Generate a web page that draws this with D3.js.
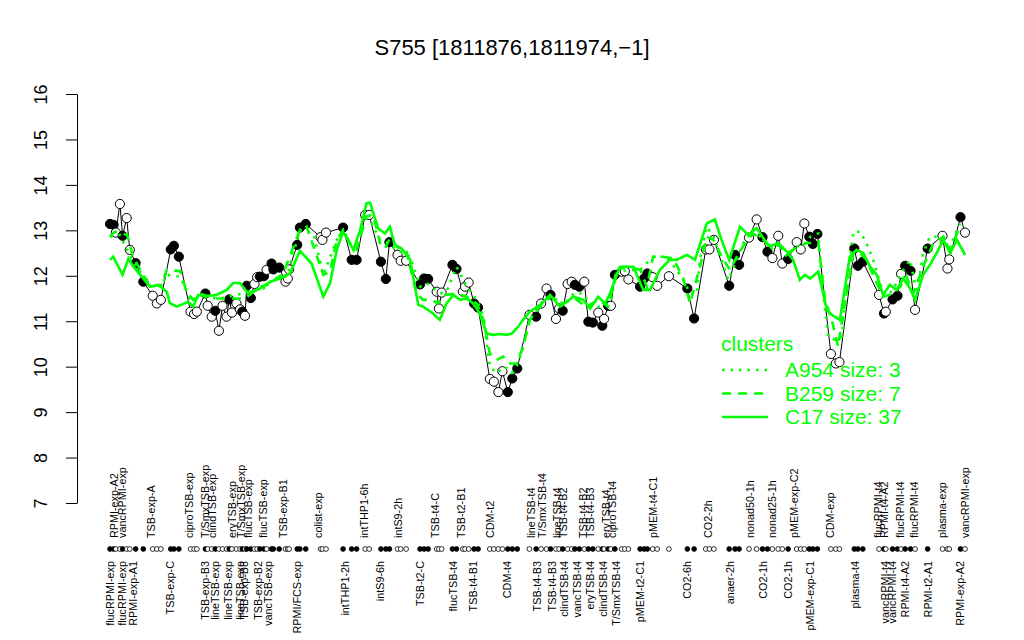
<!DOCTYPE html>
<html>
<head>
<meta charset="utf-8">
<script src="https://cdn.jsdelivr.net/npm/d3@7"></script>
<style>
  html, body { margin: 0; padding: 0; background: #fff; }
  svg { display: block; font-family: "Liberation Sans", Arial, Helvetica, sans-serif; }
</style>
</head>
<body>
<svg id="chart" width="1024" height="640"></svg>
<script>
// ---------- DATA ----------
const title = "S755 [1811876,1811974,\u22121]";
const yTicks = [7, 8, 9, 10, 11, 12, 13, 14, 15, 16];

// sample positions along the x axis (index units), expression values and filled flag
const positions = [0.0,0.8,1.3,2.2,2.8,3.7,4.4,5.7,7.4,9.5,
  10.4,11.3,13.5,14.2,15.3,17.9,18.7,19.3,21.2,21.7,
  22.6,23.4,24.2,25.0,25.9,26.5,27.1,28.1,28.9,29.4,
  30.0,30.4,31.3,32.1,32.7,33.3,34.2,34.8,35.9,36.3,
  37.6,39.0,39.5,39.8,41.6,42.2,43.5,46.8,47.2,48.0,
  51.8,53.7,54.8,56.7,57.6,60.2,61.3,62.1,63.9,64.6,
  65.8,68.9,69.8,70.7,72.6,73.1,73.7,76.1,77.0,78.4,
  78.9,79.7,80.9,81.8,84.4,85.3,86.3,87.2,88.4,89.4,
  90.5,93.2,94.7,95.8,97.0,97.9,99.1,99.8,100.6,101.7,
  102.6,103.3,104.3,105.4,106.3,107.3,108.5,109.4,109.8,110.7,
  111.3,112.2,113.7,114.4,115.2,117.8,118.7,119.4,120.6,121.6,
  124.2,128.3,129.8,132.4,133.2,134.2,137.6,138.9,139.8,142.0,
  143.7,145.0,146.1,147.2,148.5,149.4,150.7,152.6,153.5,154.3,
  155.4,156.2,157.2,160.2,161.3,162.1,165.4,166.2,167.3,170.9,
  172.0,172.4,173.9,175.0,175.8,176.7,177.9,178.9,181.7,185.0,
  186.1,186.5,189.0,190.0];

const values = [13.14,13.12,12.95,13.58,12.88,13.27,12.57,12.28,11.87,11.56,
  11.39,11.47,12.58,12.66,12.42,11.21,11.16,11.21,11.61,11.34,
  11.10,11.23,10.79,11.34,11.10,11.48,11.19,11.39,11.26,11.21,
  11.12,11.78,11.51,11.82,11.97,11.98,11.99,12.13,12.27,12.14,
  12.18,11.87,11.94,12.14,12.68,13.06,13.14,12.85,12.79,12.95,
  13.06,12.35,12.35,13.34,13.34,12.31,11.93,12.74,12.46,12.33,
  12.33,11.81,11.94,11.93,11.65,11.28,11.63,12.24,12.15,11.65,
  11.76,11.85,11.39,11.30,9.73,9.67,9.44,9.90,9.44,9.74,
  9.96,11.14,11.10,11.39,11.72,11.58,11.05,11.28,11.23,11.82,
  11.87,11.80,11.76,11.87,10.99,10.97,11.19,10.90,11.05,11.34,
  11.34,12.02,12.09,12.10,11.92,11.76,11.94,12.05,11.97,11.78,
  11.99,11.72,11.06,12.58,12.58,12.79,11.78,12.46,12.24,12.84,
  13.24,12.85,12.53,12.39,12.88,12.27,12.37,12.74,12.58,13.15,
  12.86,12.70,12.92,10.28,10.07,10.10,12.60,12.22,12.31,11.58,
  11.17,11.21,11.48,11.56,12.04,12.22,12.11,11.25,12.60,12.88,
  12.16,12.36,13.29,12.95];

const filled = [1,1,0,0,1,0,0,1,1,0,
  0,0,1,1,1,0,0,0,1,0,
  0,1,0,0,0,1,0,0,0,1,
  0,1,1,0,0,1,1,0,1,1,
  1,0,0,0,1,1,1,0,0,0,
  1,1,1,0,0,1,1,1,0,0,
  0,1,1,1,0,0,0,1,1,0,
  0,0,1,1,0,0,0,0,1,1,
  1,0,1,0,0,1,0,0,1,0,
  0,1,1,0,1,1,0,1,0,1,
  0,1,0,0,0,1,1,1,0,0,
  0,1,1,0,0,0,1,1,1,0,
  0,1,1,0,0,0,1,0,0,0,
  1,1,1,0,0,0,1,1,1,0,
  1,0,1,1,0,1,1,0,1,0,
  0,0,1,0];

// sample labels shown above the marker row  [position, label]
const topLabels = [
  [0.9,"RPMI-exp-A2"],[2.8,"vancRPMI-exp"],[9.1,"TSB-exp-A"],[17.6,"ciproTSB-exp"],
  [21.1,"T/SmxTSB-exp"],[22.7,"clindTSB-exp"],[27.1,"eryTSB-exp"],[29.1,"T/SmxTSB-exp"],
  [30.7,"flucTSB-exp"],[34.0,"flucTSB-exp"],[38.4,"TSB-exp-B1"],[46.2,"colist-exp"],
  [56.4,"intTHP1-6h"],[64.0,"intS9-2h"],[72.2,"TSB-t4-C"],[78.0,"TSB-t2-B1"],
  [84.4,"CDM-t2"],[93.6,"lineTSB-t4"],[96.0,"T/SmxTSB-t4"],[99.3,"lineTSB-t4"],
  [100.7,"TSB-t4-B2"],[105.1,"TSB-t4-B2"],[106.7,"TSB-t4-B3"],[110.2,"eryTSB-t4"],
  [111.6,"ciproTSB-t4"],[120.7,"pMEM-t4-C1"],[132.9,"CO2-2h"],[142.2,"nonad50-1h"],
  [147.1,"nonad25-1h"],[152.0,"pMEM-exp-C2"],[160.0,"CDM-exp"],[170.7,"flucRPMI-t4"],
  [172.0,"RPMI-t4-A2"],[175.6,"flucRPMI-t4"],[178.7,"flucRPMI-t4"],[184.9,"plasma-exp"],
  [190.0,"vancRPMI-exp"]];

// sample labels shown below the marker row  [position, label]
const bottomLabels = [
  [0.0,"flucRPMI-exp"],[2.7,"flucRPMI-exp"],[5.1,"RPMI-exp-A1"],[13.3,"TSB-exp-C"],
  [21.1,"TSB-exp-B3"],[23.3,"lineTSB-exp"],[26.2,"lineTSB-exp"],[28.9,"lineTSB-exp"],
  [29.8,"TSB-exp-B3"],[32.9,"TSB-exp-B2"],[35.1,"vancTSB-exp"],[41.6,"RPMI/FCS-exp"],
  [52.2,"intTHP1-2h"],[60.0,"intS9-6h"],[68.9,"TSB-t2-C"],[76.2,"flucTSB-t4"],
  [80.7,"TSB-t4-B1"],[88.2,"CDM-t4"],[94.9,"TSB-t4-B3"],[98.2,"TSB-t4-B3"],
  [100.9,"clindTSB-t4"],[103.8,"vancTSB-t4"],[106.7,"eryTSB-t4"],[109.6,"clindTSB-t4"],
  [112.4,"T/SmxTSB-t4"],[117.8,"pMEM-t2-C1"],[128.2,"CO2-6h"],[137.8,"anaer-2h"],
  [145.1,"CO2-1h"],[150.7,"CO2-1h"],[155.6,"pMEM-exp-C1"],[165.6,"plasma-t4"],
  [172.2,"vancRPMI-t4"],[173.8,"vancRPMI-t4"],[176.7,"RPMI-t4-A2"],[181.8,"RPMI-t2-A1"],
  [188.9,"RPMI-exp-A2"]];

// cluster mean profiles  [position, value]
const clusterA954 = [[0,12.86],[2.2,12.9],[5.2,12.3],[8.9,11.78],[11.5,11.8],[12.6,12.02],[15.6,11.98],[17.8,11.5],[20.0,11.54],[24.4,11.5],[29.6,11.61],[34.1,11.72],[36.3,11.94],[39.3,11.98],[42.2,13.01],[45.2,12.93],[47.4,12.02],[50.4,12.79],[51.8,13.01],[54.1,12.57],[57.0,13.38],[60.0,12.79],[61.3,12.75],[63.7,12.57],[66.7,12.42],[68.9,11.76],[70.4,11.84],[73.3,11.61],[74.8,11.65],[77.0,12.2],[79.3,11.76],[81.5,11.47],[83.0,11.1],[84.4,10.0],[85.9,9.86],[87.8,10.0],[89.3,9.86],[90.7,10.07],[91.8,10.44],[93.3,11.03],[95.6,11.39],[98.5,11.54],[100.7,11.32],[103.0,11.61],[105.2,11.61],[107.0,11.32],[108.9,11.32],[111.1,11.39],[112.6,12.05],[114.8,12.13],[117.8,12.13],[120.7,12.42],[123.7,12.42],[125.9,12.13],[127.4,11.91],[128.9,11.61],[130.4,11.61],[131.1,12.35],[132.6,13.08],[134.1,12.86],[135.9,12.35],[137.4,11.91],[139.3,12.35],[140.7,12.72],[142.9,13.01],[145.2,12.79],[147.4,12.57],[148.9,12.72],[150.4,12.42],[152.6,12.65],[154.1,12.65],[155.6,12.86],[157.4,12.93],[158.5,11.61],[159.6,10.66],[161.1,10.59],[162.6,10.66],[164.4,12.35],[165.2,12.97],[166.7,12.97],[168.1,12.72],[169.6,12.35],[171.8,11.61],[173.3,11.61],[174.8,11.84],[176.3,12.13],[177.8,12.35],[179.3,11.61],[180.7,12.5],[182.2,12.86],[183.7,12.86],[185.2,12.65],[187.0,12.72],[188.9,13.15]];

const clusterB259 = [[0,12.86],[1.1,12.97],[3.8,12.9],[5.2,12.4],[8.9,11.76],[11.5,11.8],[12.6,12.13],[15.6,12.1],[17.0,11.65],[18.5,11.47],[20.0,11.61],[23.3,11.5],[26.7,11.5],[30.0,11.5],[33.3,11.76],[35.1,11.8],[37.0,11.94],[38.5,12.05],[42.2,13.01],[43.7,13.08],[47.4,12.02],[48.9,12.09],[50.4,12.79],[51.8,13.01],[53.7,12.65],[54.8,12.57],[57.0,13.31],[58.5,13.34],[60.0,12.72],[61.1,12.6],[62.2,12.83],[64.4,12.57],[65.9,12.53],[68.1,11.61],[69.6,11.47],[71.5,11.47],[72.9,11.39],[74.4,11.58],[77.0,11.61],[79.3,11.54],[81.5,11.39],[83.0,11.03],[84.4,10.29],[85.9,10.15],[87.4,10.22],[88.9,10.07],[90.4,10.07],[91.8,10.44],[93.3,11.03],[95.6,11.32],[97.8,11.54],[100.7,11.39],[103.3,11.5],[105.9,11.32],[108.5,11.47],[110.7,11.32],[112.6,12.13],[114.8,12.2],[117.8,12.13],[119.3,11.76],[120.7,12.42],[122.9,12.42],[125.2,12.38],[127.4,11.94],[128.9,11.39],[131.1,12.2],[132.6,12.86],[134.1,12.79],[136.3,12.35],[137.8,12.13],[139.3,12.42],[140.7,12.65],[142.9,12.93],[145.2,12.79],[146.7,12.65],[148.5,12.68],[150.4,12.5],[151.8,12.57],[153.3,12.65],[154.8,12.72],[157.4,12.72],[158.9,11.47],[160.4,11.03],[161.8,10.44],[163.3,11.39],[165.2,12.5],[166.7,12.5],[168.1,12.35],[170.4,11.84],[171.8,11.54],[174.1,11.61],[175.6,11.76],[177.0,11.98],[178.5,11.61],[180.7,12.2],[183.0,12.72],[185.2,12.86],[186.7,12.57],[188.9,13.08]];

const clusterC17 = [[0,12.35],[0.7,12.42],[2.8,12.02],[4.1,12.38],[5.2,12.2],[8.9,11.76],[10.7,11.8],[12.6,11.65],[13.3,11.4],[14.8,11.32],[17.4,11.43],[18.5,11.32],[19.6,11.58],[21.1,11.55],[23.7,11.58],[25.9,11.69],[27.4,11.84],[28.9,11.84],[30.4,11.65],[31.8,11.65],[33.3,11.72],[35.6,11.87],[37.8,11.94],[40.0,12.05],[42.2,12.55],[44.8,12.27],[47.4,11.54],[48.9,11.84],[50.4,12.57],[51.8,12.97],[54.1,12.57],[55.6,13.01],[57.0,13.6],[57.8,13.61],[59.6,13.04],[61.1,12.93],[62.2,13.08],[63.3,12.68],[64.8,12.6],[66.7,12.35],[68.5,11.36],[69.6,11.32],[71.8,11.17],[73.3,11.03],[74.8,11.39],[76.3,11.58],[77.8,11.47],[79.3,11.5],[80.7,11.39],[82.2,11.17],[83.7,10.73],[85.2,10.7],[86.7,10.72],[88.2,10.7],[89.3,10.73],[90.7,10.88],[91.8,11.03],[93.3,11.21],[95.6,11.36],[97.8,11.58],[100.0,11.32],[103.0,11.54],[105.2,11.47],[106.7,11.28],[108.5,11.54],[110.0,11.39],[111.1,11.61],[113.3,12.2],[116.3,12.2],[118.5,11.69],[120.0,11.69],[122.2,12.13],[124.4,12.35],[125.9,12.35],[128.2,12.46],[130.0,12.35],[132.6,13.15],[134.4,13.24],[135.9,12.79],[137.6,12.35],[140.0,13.08],[141.8,12.9],[143.7,13.05],[145.9,12.72],[146.7,12.65],[148.5,12.72],[150.4,12.53],[151.8,12.35],[153.3,11.91],[154.4,12.02],[155.6,11.94],[157.4,12.09],[159.3,11.25],[160.4,11.14],[162.2,11.03],[164.4,12.42],[165.9,12.57],[167.4,12.5],[168.9,12.2],[170.4,12.02],[171.8,11.58],[173.3,11.8],[174.8,11.69],[176.3,11.94],[177.8,11.72],[178.9,11.47],[180.7,12.02],[182.2,12.24],[183.7,12.5],[185.2,12.79],[186.7,12.5],[188.2,12.79],[190.0,12.46]];

const legendTitle = "clusters";
const legendLabels = ["A954 size: 3", "B259 size: 7", "C17 size: 37"];

// ---------- DRAW ----------
const GREEN = "#00ff00";
const svg = d3.select("#chart");
const x = d3.scaleLinear().domain([0, 190]).range([110, 965]);
const y = d3.scaleLinear().domain([7, 16]).range([503, 94]);

// title
svg.append("text").attr("x", 512).attr("y", 55).attr("text-anchor", "middle")
  .attr("font-size", 22).attr("fill", "#000").text(title);

// y axis
const yAxis = svg.append("g").attr("transform", "translate(77,0)")
  .call(d3.axisLeft(y).tickValues(yTicks).tickSize(11).tickSizeOuter(0).tickFormat(d3.format("d")));
yAxis.select(".domain").attr("stroke", "#000");
yAxis.selectAll(".tick line").attr("stroke", "#000");
yAxis.selectAll(".tick text")
  .attr("x", null).attr("dy", null)
  .attr("transform", "translate(-30,0) rotate(-90)")
  .attr("text-anchor", "middle")
  .attr("font-size", 18).attr("fill", "#000")
  .attr("font-family", "Liberation Sans, Arial, sans-serif");

const pts = positions.map((p, i) => ({ p, v: values[i], f: filled[i] }));

// data line
svg.append("path").datum(pts)
  .attr("fill", "none").attr("stroke", "#000").attr("stroke-width", 1)
  .attr("d", d3.line().x(d => x(d.p)).y(d => y(d.v)));

// points
svg.append("g").selectAll("circle").data(pts).join("circle")
  .attr("cx", d => x(d.p)).attr("cy", d => y(d.v)).attr("r", 4.6)
  .attr("fill", d => d.f ? "#000" : "#fff").attr("stroke", "#000").attr("stroke-width", 1);

// cluster lines
const cl = d3.line().x(d => x(d[0])).y(d => y(d[1]));
const clusters = [
  { data: clusterA954, dash: "2.5,6" },
  { data: clusterB259, dash: "9,7" },
  { data: clusterC17, dash: null }
];
clusters.forEach(c => {
  svg.append("path").datum(c.data)
    .attr("fill", "none").attr("stroke", GREEN).attr("stroke-width", 2.6)
    .attr("stroke-dasharray", c.dash).attr("d", cl);
});

// marker row
svg.append("g").selectAll("circle").data(pts).join("circle")
  .attr("cx", d => x(d.p)).attr("cy", 549).attr("r", 2.4)
  .attr("fill", d => d.f ? "#000" : "#fff").attr("stroke", "#000").attr("stroke-width", 0.8);

// sample labels
const lab = svg.append("g").attr("font-size", 10.8).attr("fill", "#000");
lab.selectAll("text.top").data(topLabels).join("text").attr("class", "top")
  .attr("transform", d => `translate(${x(d[0])},538) rotate(-90)`)
  .attr("dy", "0.35em").attr("text-anchor", "start").text(d => d[1]);
lab.selectAll("text.bot").data(bottomLabels).join("text").attr("class", "bot")
  .attr("transform", d => `translate(${x(d[0])},561) rotate(-90)`)
  .attr("dy", "0.35em").attr("text-anchor", "end").text(d => d[1]);

// legend
const lg = svg.append("g");
lg.append("text").attr("x", 721).attr("y", 351).attr("font-size", 21).attr("fill", GREEN).text(legendTitle);
const dashes = ["2.5,6", "9,7", null];
legendLabels.forEach((t, i) => {
  const by = 377 + i * 23.5;
  lg.append("line").attr("x1", 722).attr("x2", 768).attr("y1", by - 7).attr("y2", by - 7)
    .attr("stroke", GREEN).attr("stroke-width", 2.6).attr("stroke-dasharray", dashes[i]);
  lg.append("text").attr("x", 785).attr("y", by).attr("font-size", 21).attr("fill", GREEN).text(t);
});
</script>
</body>
</html>
